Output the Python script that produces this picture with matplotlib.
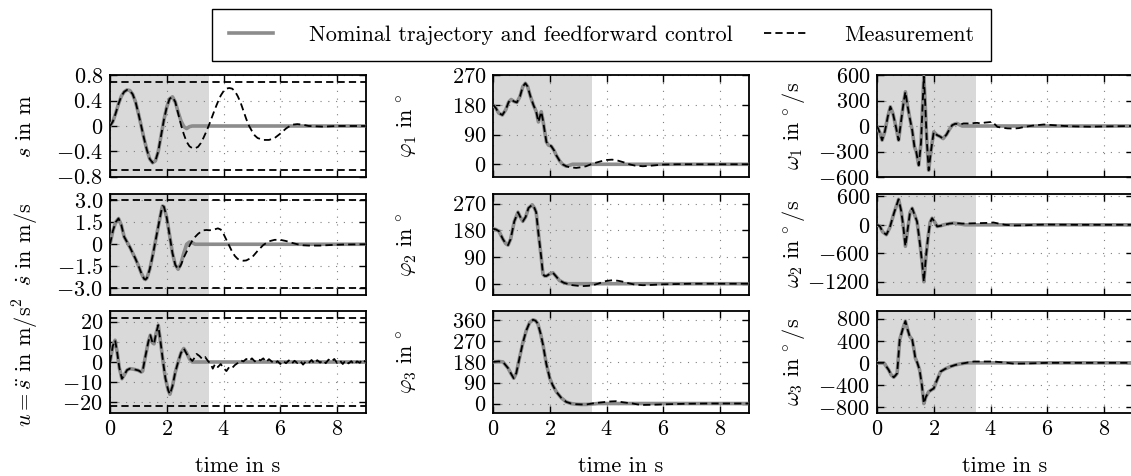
import matplotlib
matplotlib.use('Agg')
import matplotlib.pyplot as plt
from matplotlib.lines import Line2D

plt.rcParams['font.family'] = 'serif'
plt.rcParams['font.serif'] = ['cmr10']
plt.rcParams['mathtext.fontset'] = 'cm'
plt.rcParams['font.size'] = 16

# ---------------- data ----------------
# cart position s
t_s = [0, 0.1, 0.2, 0.3, 0.4, 0.5, 0.6, 0.7, 0.8, 0.9, 1.0, 1.1, 1.2, 1.3, 1.4, 1.5, 1.6,
       1.7, 1.8, 1.9, 2.0, 2.1, 2.2, 2.3, 2.4, 2.5, 2.6, 2.7, 2.8, 2.9, 9.0]
s_nom = [0, 0.07, 0.2, 0.35, 0.47, 0.54, 0.57, 0.56, 0.5, 0.38, 0.2, 0.0, -0.2, -0.38, -0.52,
         -0.58, -0.55, -0.4, -0.15, 0.1, 0.3, 0.43, 0.46, 0.38, 0.22, 0.08, -0.01, -0.04, -0.01, 0, 0]
t_s_meas = [2.4, 2.5, 2.6, 2.7, 2.8, 2.9, 3.0, 3.1, 3.2, 3.3, 3.4, 3.5, 3.6, 3.7, 3.8, 3.9, 4.0,
            4.1, 4.2, 4.3, 4.4, 4.5, 4.6, 4.7, 4.8, 4.9, 5.0, 5.1, 5.2, 5.4, 5.6, 5.8, 6.0, 6.2,
            6.4, 6.6, 6.8, 7.0, 7.5, 8.0, 9.0]
s_meas = [0.2, 0.02, -0.13, -0.25, -0.32, -0.35, -0.35, -0.33, -0.27, -0.18, -0.08, 0.03, 0.15,
          0.27, 0.38, 0.48, 0.55, 0.59, 0.6, 0.59, 0.55, 0.47, 0.37, 0.24, 0.11, 0.0, -0.08, -0.15,
          -0.19, -0.22, -0.22, -0.19, -0.12, -0.04, 0.02, 0.03, 0.02, 0.0, -0.01, 0, 0]

# cart velocity s_dot
t_sd = [0, 0.1, 0.2, 0.3, 0.4, 0.5, 0.6, 0.7, 0.8, 0.9, 1.0, 1.1, 1.2, 1.25, 1.3, 1.4, 1.5, 1.6,
        1.7, 1.8, 1.85, 1.9, 2.0, 2.1, 2.2, 2.3, 2.4, 2.5, 2.6, 2.7, 2.8, 2.9, 3.0, 9.0]
sd_nom = [0, 0.9, 1.5, 1.75, 1.3, 0.5, 0.15, -0.2, -0.6, -1.0, -1.45, -1.95, -2.35, -2.4, -2.3,
          -1.7, -0.8, 0.2, 1.2, 2.2, 2.6, 2.55, 1.8, 0.6, -0.6, -1.4, -1.7, -1.3, -0.6, 0.0, 0.15,
          0.1, 0, 0]
t_sd_meas = [2.5, 2.6, 2.7, 2.8, 2.9, 3.0, 3.1, 3.2, 3.3, 3.4, 3.5, 3.6, 3.7, 3.8, 3.9, 4.0, 4.1,
             4.2, 4.3, 4.4, 4.5, 4.7, 4.8, 5.0, 5.2, 5.4, 5.6, 5.8, 6.0, 6.2, 6.4, 6.6, 6.8, 7.0,
             7.4, 7.8, 8.2, 9.0]
sd_meas = [-1.4, -0.9, -0.5, -0.1, 0.25, 0.5, 0.7, 0.85, 0.95, 0.97, 0.95, 0.97, 1.02, 1.08, 1.0,
           0.7, 0.3, -0.1, -0.5, -0.8, -1.0, -1.12, -1.1, -0.9, -0.45, -0.05, 0.2, 0.3, 0.3, 0.22,
           0.1, 0.0, -0.07, -0.09, -0.09, -0.05, -0.02, 0]

# input u = s_ddot
t_u = [0, 0.1, 0.18, 0.25, 0.33, 0.42, 0.5, 0.6, 0.7, 0.8, 0.9, 1.0, 1.1, 1.15, 1.25, 1.35, 1.42,
       1.5, 1.55, 1.62, 1.7, 1.78, 1.87, 1.95, 2.05, 2.11, 2.2, 2.3, 2.4, 2.5, 2.6, 2.7, 2.8, 2.9,
       9.0]
u_nom = [0, 8, 10.8, 5, -3, -8.3, -6.5, -4, -3.3, -3.5, -3.8, -4.2, -5, -4.5, 3, 10, 13.3, 9.5, 9,
         14, 18.3, 10, 0, -8, -14, -16, -12, -5, 0, 4.5, 6.7, 4.5, 1.5, 0, 0]
t_u_meas = [2.7, 2.8, 2.9, 3.0, 3.05, 3.15, 3.25, 3.35, 3.45, 3.55, 3.62, 3.7, 3.8, 3.9, 4.0, 4.1,
            4.2, 4.3, 4.4, 4.5, 4.6, 4.7, 4.8, 4.9, 5.0, 5.1, 5.2, 5.3, 5.4, 5.5, 5.6, 5.7, 5.8,
            5.9, 6.0, 6.1, 6.2, 6.3, 6.4, 6.5, 6.6, 6.7, 6.8, 6.9, 7.0, 7.1, 7.2, 7.3, 7.4, 7.5,
            7.6, 7.7, 7.8, 7.9, 8.0, 8.1, 8.2, 8.3, 8.4, 8.5, 8.6, 8.7, 8.8, 8.9, 9.0]
u_meas = [4, 2, 0.5, 2.5, 4, 3, 1.5, 2.5, 0.5, -1, -3.3, -1, -2.5, -1, -3, -4.5, -2.5, -3, -1.5,
          -0.5, 0.8, 0.3, 1.5, 0.5, 1.8, 0.3, 1.5, 0.8, 1.8, 0, 1.4, 0.2, -0.8, 0.4, -1.0, 0.5,
          -0.6, 0.8, -0.8, 0.6, -0.5, 0.5, -1.3, 0.3, -0.5, 1.0, -0.8, 0.9, -0.3, 0.8, -0.6, 1.2,
          0.2, 1.5, -0.5, 0.7, -1.0, 0.8, -0.7, 0.4, -1.2, 0.3, -0.4, 1.3, 0]

# pendulum angles phi_1..3 (deg)
t_p1 = [0, 0.1, 0.2, 0.33, 0.45, 0.55, 0.64, 0.74, 0.84, 0.95, 1.05, 1.14, 1.22, 1.32, 1.42,
        1.52, 1.6, 1.7, 1.76, 1.82, 1.88, 1.95, 2.05, 2.15, 2.23, 2.35, 2.45, 2.58, 2.7, 2.8, 9.0]
p1_nom = [180, 170, 155, 149, 165, 188, 196, 190, 187, 205, 235, 245, 235, 205, 180, 160, 128, 159,
          133, 100, 68, 58, 55, 42, 27, 10, 0, -6, -3, 0, 0]
t_p1_meas = [2.58, 2.7, 2.93, 3.1, 3.28, 3.45, 3.63, 3.8, 4.0, 4.2, 4.4, 4.6, 4.8, 5.0, 5.28, 5.6,
             5.98, 6.5, 9.0]
p1_meas = [-6, -9, -11, -9, -6, 0, 5, 9, 13, 14, 11, 6, 0, -4, -6, -4, -1, 0, 0]

t_p2 = [0, 0.1, 0.21, 0.35, 0.45, 0.53, 0.62, 0.75, 0.88, 0.96, 1.05, 1.15, 1.25, 1.38, 1.46,
        1.52, 1.6, 1.7, 1.76, 1.82, 1.88, 2.0, 2.11, 2.22, 2.34, 2.5, 2.64, 9.0]
p2_nom = [185, 183, 177, 150, 135, 130, 150, 210, 241, 225, 210, 225, 255, 266, 255, 241, 170, 88,
          32, 26, 26, 33, 37, 25, 11, 3, 0, 0]
t_p2_meas = [2.64, 2.8, 3.0, 3.16, 3.35, 3.52, 3.7, 3.85, 3.98, 4.22, 4.4, 4.57, 4.8, 5.0, 5.28,
             5.6, 6.0, 6.5, 7.0, 9.0]
p2_meas = [-1, -5, -7, -8, -7, -5, 0, 5, 9, 12, 10, 7, 1, -3, -5, -4, -2, -1, 0, 0]

t_p3 = [0, 0.2, 0.35, 0.45, 0.53, 0.63, 0.73, 0.82, 0.93, 1.05, 1.17, 1.29, 1.41, 1.5, 1.58, 1.67,
        1.76, 1.88, 2.0, 2.1, 2.23, 2.4, 2.58, 2.75, 2.93, 3.1, 3.28, 3.5, 3.7, 9.0]
p3_nom = [180, 182, 180, 165, 153, 130, 109, 131, 195, 262, 315, 350, 362, 358, 345, 305, 255, 170,
          109, 80, 51, 25, 7, 0, -3, -4, -4, -2, 0, 0]
t_p3_meas = [3.5, 3.75, 3.98, 4.15, 4.34, 4.6, 4.92, 5.1, 5.3, 5.7, 6.2, 6.8, 7.5, 9.0]
p3_meas = [0, 4, 7, 9, 10, 5, 0, -4, -6, -5, -3, -1, 0, 0]

# angular velocities omega_1..3 (deg/s)
t_w1 = [0, 0.1, 0.18, 0.28, 0.38, 0.47, 0.56, 0.66, 0.76, 0.85, 0.93, 1.0, 1.07, 1.15, 1.24, 1.32,
        1.38, 1.47, 1.55, 1.6, 1.65, 1.7, 1.75, 1.82, 1.88, 1.94, 2.0, 2.06, 2.12, 2.2, 2.33, 2.45,
        2.55, 2.65, 2.75, 2.82, 2.9, 3.0, 9.0]
w1_nom = [0, -80, -167, -60, 110, 226, 150, 0, -167, 60, 260, 403, 250, 100, -49, -246, -300, -462,
          -200, 200, 580, 250, -150, -521, -350, -200, -69, -90, -108, -120, -148, -100, -40, 10, 25,
          30, 15, 0, 0]
t_w1_meas = [2.82, 2.95, 3.05, 3.18, 3.3, 3.42, 3.53, 3.65, 3.8, 3.95, 4.06, 4.15, 4.24, 4.4, 4.6,
             4.82, 5.0, 5.2, 5.5, 5.88, 6.2, 6.6, 7.0, 7.5, 8.0, 9.0]
w1_meas = [25, 20, 30, 30, 25, 35, 37, 30, 40, 45, 49, 20, -10, -20, -28, -30, -25, -10, 5, 18, 10,
           0, -5, -8, -5, 0]

t_w2 = [0, 0.1, 0.2, 0.33, 0.45, 0.6, 0.76, 0.85, 0.92, 1.0, 1.08, 1.16, 1.24, 1.33, 1.41, 1.47,
        1.53, 1.59, 1.65, 1.72, 1.8, 1.87, 1.94, 2.03, 2.12, 2.25, 2.35, 2.55, 2.7, 2.9, 3.1, 9.0]
w2_nom = [0, -30, -150, -209, -60, 250, 537, 300, 0, -453, -100, 250, 348, 200, 70, -200, -488, -800,
          -1200, -700, -250, 50, 139, 60, -35, -20, 0, 25, 35, 20, 0, 0]
t_w2_meas = [2.9, 3.0, 3.3, 3.6, 3.9, 4.1, 4.3, 4.5, 4.82, 5.2, 5.6, 6.0, 7.0, 9.0]
w2_meas = [30, 25, 30, 35, 40, 49, 25, 0, -14, -10, 0, 5, 0, 0]

t_w3 = [0, 0.24, 0.32, 0.41, 0.5, 0.59, 0.65, 0.71, 0.76, 0.8, 0.9, 1.0, 1.08, 1.15, 1.24, 1.3,
        1.35, 1.42, 1.5, 1.58, 1.65, 1.72, 1.82, 1.92, 2.0, 2.1, 2.24, 2.4, 2.59, 2.75, 2.94, 3.2,
        9.0]
w3_nom = [0, 0, -60, -128, -220, -262, -230, -190, 150, 421, 600, 757, 600, 482, 421, 250, 85, 0,
          -128, -400, -739, -620, -525, -490, -464, -330, -159, -110, -67, -40, -18, 0, 0]
t_w3_meas = [3.2, 3.41, 3.7, 4.1, 4.5, 4.82, 5.3, 6.0, 9.0]
w3_meas = [5, 24, 24, 24, 5, -15, -12, 0, 0]

# limits of the cart (dashed horizontal lines, left column)
s_max, sd_max, u_max = 0.7, 3.0, 22.0
t_shade = 3.5


def measured(t_nom, y_nom, t_tail, y_tail):
    # measurement equals the nominal curve until the tail starts
    head = [(t, y) for t, y in zip(t_nom, y_nom) if t < t_tail[0]]
    return [p[0] for p in head] + t_tail, [p[1] for p in head] + y_tail


def labels(vals, fmt):
    out = []
    for v in vals:
        txt = '0' if v == 0 else fmt % abs(v)
        out.append('$%s%s$' % ('-' if v < 0 else '', txt))
    return out


panels = [
    # (row, col, t_nom, y_nom, t_tail, y_tail, ylim, yticks, fmt, ylabel, limit)
    (0, 0, t_s, s_nom, t_s_meas, s_meas, (-0.805, 0.805), [-0.8, -0.4, 0, 0.4, 0.8], '%.1f',
     r'$s$ in m', s_max),
    (1, 0, t_sd, sd_nom, t_sd_meas, sd_meas, (-3.45, 3.45), [-3.0, -1.5, 0, 1.5, 3.0], '%.1f',
     r'$\dot{s}$ in m/s', sd_max),
    (2, 0, t_u, u_nom, t_u_meas, u_meas, (-25.3, 25.3), [-20, -10, 0, 10, 20], '%d',
     r'$u = \ddot{s}$ in m/s$^2$', u_max),
    (0, 1, t_p1, p1_nom, t_p1_meas, p1_meas, (-38.5, 270), [0, 90, 180, 270], '%d',
     r'$\varphi_1\ \mathrm{in}\,^\circ$', None),
    (1, 1, t_p2, p2_nom, t_p2_meas, p2_meas, (-38, 304), [0, 90, 180, 270], '%d',
     r'$\varphi_2\ \mathrm{in}\,^\circ$', None),
    (2, 1, t_p3, p3_nom, t_p3_meas, p3_meas, (-41, 400), [0, 90, 180, 270, 360], '%d',
     r'$\varphi_3\ \mathrm{in}\,^\circ$', None),
    (0, 2, t_w1, w1_nom, t_w1_meas, w1_meas, (-600, 600), [-600, -300, 0, 300, 600], '%d',
     r'$\omega_1\ \mathrm{in}\,^\circ\mathrm{/s}$', None),
    (1, 2, t_w2, w2_nom, t_w2_meas, w2_meas, (-1480, 660), [-1200, -600, 0, 600], '%d',
     r'$\omega_2\ \mathrm{in}\,^\circ\mathrm{/s}$', None),
    (2, 2, t_w3, w3_nom, t_w3_meas, w3_meas, (-910, 940), [-800, -400, 0, 400, 800], '%d',
     r'$\omega_3\ \mathrm{in}\,^\circ\mathrm{/s}$', None),
]

W, H = 1131, 476
fig = plt.figure(figsize=(W / 100, H / 100), dpi=100)

col_x = [110, 493, 877]
row_y = [(75, 177), (193.5, 295), (311, 413)]
ax_w = 255.5
label_x = [-0.33, -0.335, -0.325]

gray = '0.55'
dash = (0, (4, 2.3))

for row, col, tn, yn, tt, yt, ylim, yticks, fmt, ylabel, lim in panels:
    top, bot = row_y[row]
    ax = fig.add_axes([col_x[col] / W, 1 - bot / H, ax_w / W, (bot - top) / H])
    ax.axvspan(0, t_shade, color='#d9d9d9', lw=0, zorder=0)
    ax.grid(True, linestyle=(0, (1, 6)), color='0.5', linewidth=0.8, zorder=1)
    ax.set_axisbelow(True)
    ax.plot(tn, yn, color=gray, lw=2.6, zorder=3, solid_capstyle='butt')
    tm, ym = measured(tn, yn, tt, yt)
    ax.plot(tm, ym, color='black', lw=1.3, linestyle=dash, zorder=4)
    if lim is not None:
        ax.axhline(lim, color='black', lw=1.3, linestyle=dash, zorder=4)
        ax.axhline(-lim, color='black', lw=1.3, linestyle=dash, zorder=4)
    ax.set_xlim(0, 9)
    ax.set_ylim(*ylim)
    ax.set_xticks([0, 2, 4, 6, 8])
    ax.set_yticks(yticks)
    ax.set_yticklabels(labels(yticks, fmt))
    if row == 2:
        ax.set_xticklabels(['$%d$' % v for v in [0, 2, 4, 6, 8]])
        ax.set_xlabel('time in s', labelpad=12)
    else:
        ax.set_xticklabels([])
    ax.set_ylabel(ylabel, va='center')
    ax.yaxis.set_label_coords(label_x[col], 0.5)
    ax.tick_params(direction='in', top=True, right=True, length=5, width=1, labelsize=16, pad=5)
    for sp in ax.spines.values():
        sp.set_linewidth(1.3)

handles = [Line2D([], [], color=gray, lw=2.6),
           Line2D([], [], color='black', lw=1.3, linestyle=dash)]
leg = fig.legend(handles, ['Nominal trajectory and feedforward control', 'Measurement'],
                 ncol=2, loc='center', mode='expand',
                 bbox_to_anchor=(212 / W, 1 - 61 / H, 779 / W, 52 / H),
                 fontsize=16, handlelength=2.0, handletextpad=1.6, borderpad=0.75,
                 borderaxespad=0, fancybox=False, edgecolor='black', framealpha=1)
leg.get_frame().set_linewidth(1.0)

fig.savefig('out.png', dpi=100)
